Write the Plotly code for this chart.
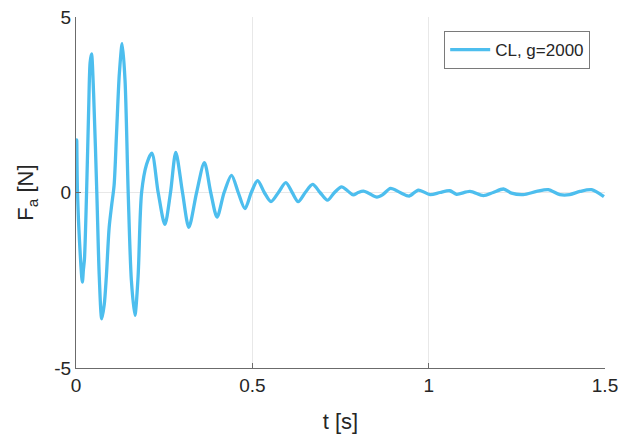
import plotly.graph_objects as go

# Actuator force response, closed loop with gain g=2000
t = [0.000, 0.002, 0.004, 0.010, 0.018, 0.021, 0.024, 0.030, 0.036, 0.040, 0.044,
     0.050, 0.059, 0.066, 0.073, 0.080, 0.086, 0.094, 0.101, 0.108, 0.115, 0.123,
     0.131, 0.139, 0.148, 0.157, 0.167, 0.176, 0.186, 0.200, 0.215, 0.233, 0.252,
     0.268, 0.283, 0.302, 0.320, 0.342, 0.364, 0.382, 0.400, 0.420, 0.441, 0.460,
     0.479, 0.497, 0.515, 0.534, 0.553, 0.574, 0.595, 0.613, 0.630, 0.650, 0.671,
     0.692, 0.713, 0.733, 0.753, 0.770, 0.786, 0.800, 0.815, 0.830, 0.853, 0.870,
     0.892, 0.919, 0.945, 0.971, 1.004, 1.032, 1.060, 1.079, 1.117, 1.155, 1.183,
     1.212, 1.235, 1.268, 1.306, 1.339, 1.372, 1.400, 1.429, 1.462, 1.497]
force = [0.00, 1.50, 0.10, -1.40, -2.55, -2.20, -1.90, 0.00, 2.40, 3.70, 3.95,
         2.80, 0.00, -2.40, -3.60, -3.20, -2.40, -1.00, -0.37, 0.20, 1.70, 3.40,
         4.24, 3.20, 0.00, -2.50, -3.50, -2.40, 0.00, 0.80, 1.12, 0.00, -0.91,
         0.00, 1.14, 0.00, -0.99, 0.00, 0.85, 0.00, -0.70, 0.00, 0.49, 0.00,
         -0.46, 0.00, 0.34, 0.00, -0.26, 0.00, 0.28, 0.00, -0.26, 0.00, 0.23,
         0.00, -0.22, 0.00, 0.16, 0.05, -0.07, 0.00, 0.04, -0.02, -0.13, -0.06,
         0.12, 0.00, -0.10, 0.07, -0.06, 0.00, 0.05, -0.05, 0.03, -0.09, 0.00,
         0.10, -0.02, -0.06, 0.03, 0.08, -0.06, -0.06, 0.03, 0.08, -0.12]

x_ticks = [0, 0.5, 1, 1.5]
x_labels = ["0", "0.5", "1", "1.5"]
y_ticks = [-5, 0, 5]
y_labels = ["-5", "0", "5"]

FONT = "Liberation Sans"
TXT = "#262626"
AX = "#6b6b6b"
GRID = "#e8e8e8"

fig = go.Figure()
fig.add_trace(go.Scatter(
    x=t, y=force, mode="lines", name="CL, g=2000",
    line=dict(color="#4DBEEE", width=3.3, shape="spline", smoothing=0.8),
))

fig.update_layout(
    width=620, height=441,
    margin=dict(l=76, r=15, t=17, b=73),
    paper_bgcolor="white", plot_bgcolor="white",
    font=dict(family=FONT, color=TXT, size=19),
    showlegend=True,
    legend=dict(
        x=0.972, y=0.960, xanchor="right", yanchor="top",
        bgcolor="white", bordercolor="#7a7a7a", borderwidth=1,
        font=dict(family=FONT, size=17, color=TXT),
        itemwidth=40,
    ),
    xaxis=dict(
        range=[0, 1.5], tickvals=x_ticks, ticktext=x_labels,
        automargin=False,
        showgrid=True, gridcolor=GRID, gridwidth=1, zeroline=False,
        showline=True, linecolor=AX, linewidth=1,
        ticks="inside", ticklen=5, tickcolor=AX,
        tickfont=dict(size=19),
        title=dict(text="t [s]", font=dict(size=22), standoff=18),
    ),
    yaxis=dict(
        range=[-5, 5], tickvals=y_ticks, ticktext=y_labels,
        automargin=False,
        showgrid=True, gridcolor=GRID, gridwidth=1, zeroline=False,
        showline=True, linecolor=AX, linewidth=1,
        ticks="inside", ticklen=5, tickcolor=AX,
        tickfont=dict(size=19),
        title=dict(text="F<sub>a</sub> [N]", font=dict(size=22), standoff=14),
    ),
)

fig.write_html("out.html")
